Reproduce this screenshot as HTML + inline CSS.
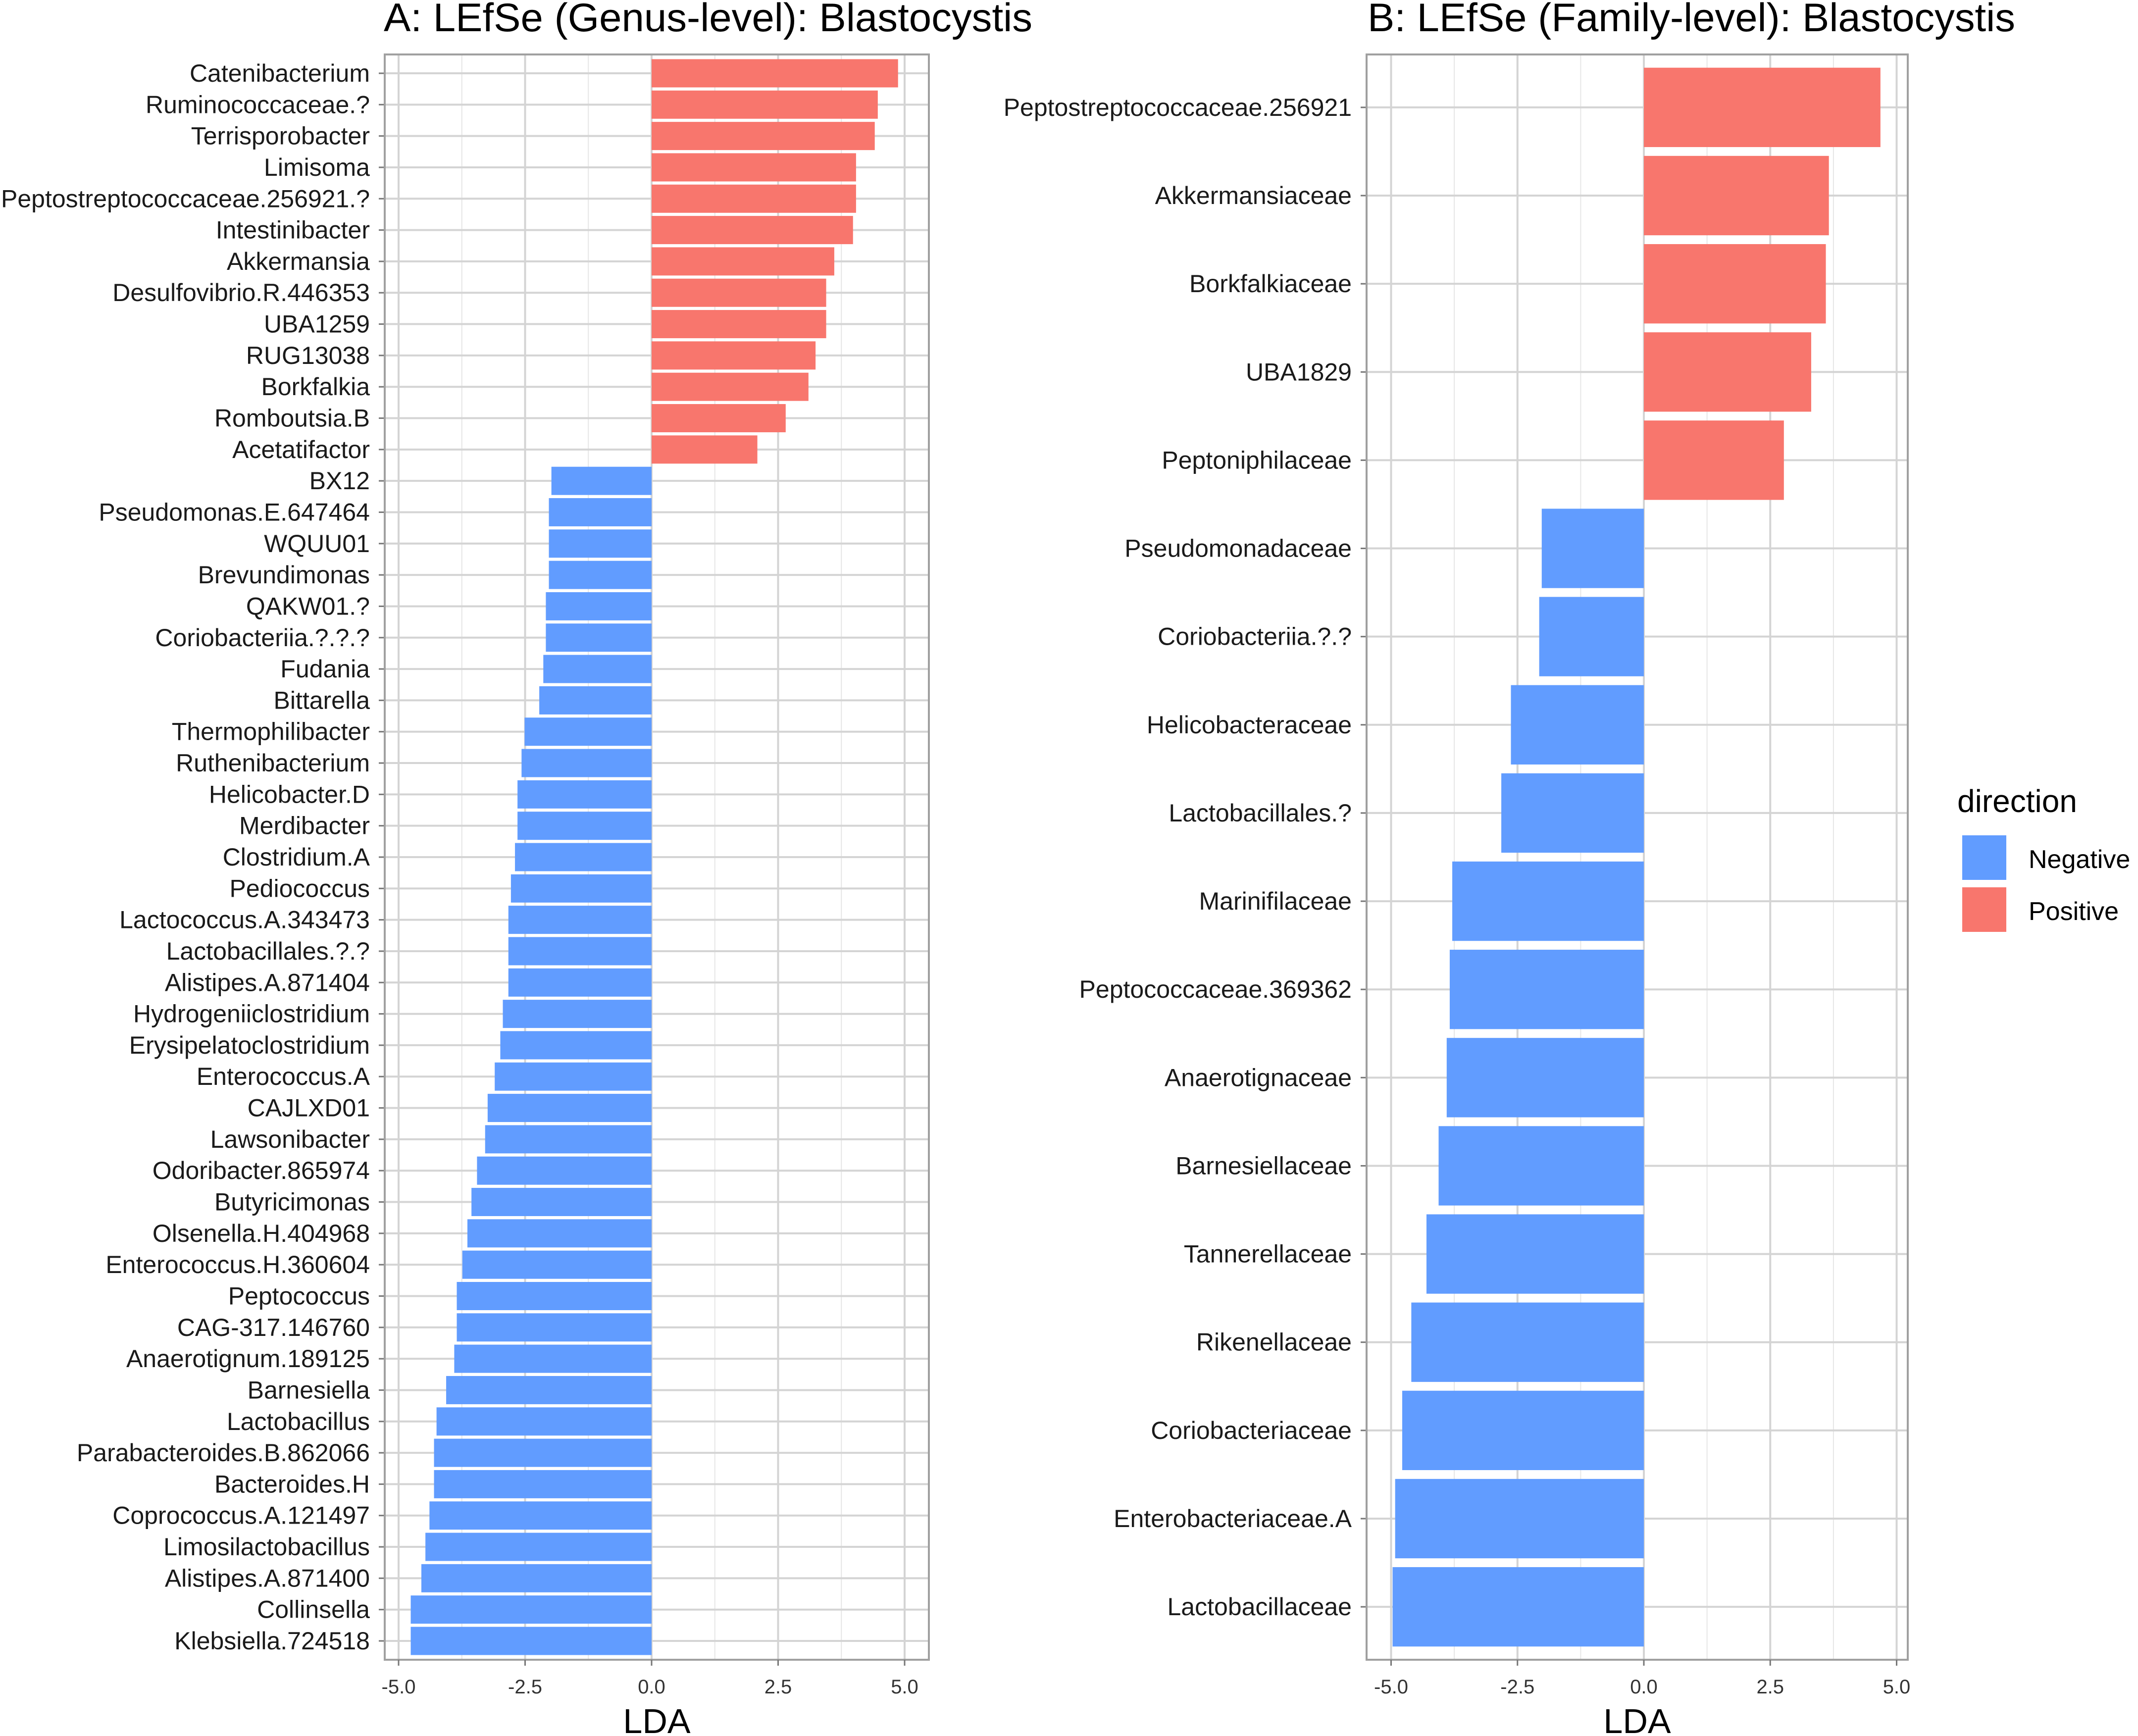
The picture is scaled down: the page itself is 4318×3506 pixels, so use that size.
<!DOCTYPE html>
<html><head><meta charset="utf-8"><style>
html,body{margin:0;padding:0;background:#fff;}
svg{display:block;font-family:"Liberation Sans",Arial,sans-serif;}
</style></head><body>
<svg id="chart" width="4318" height="3506" viewBox="0 0 4318 3506" xmlns="http://www.w3.org/2000/svg">
<text x="775" y="63" font-size="81" textLength="1310" lengthAdjust="spacingAndGlyphs">A: LEfSe (Genus-level): Blastocystis</text>
<text x="2762" y="63" font-size="81" textLength="1308" lengthAdjust="spacingAndGlyphs">B: LEfSe (Family-level): Blastocystis</text>
<g id="panelA"></g>
<g id="panelB"></g>
<g>
<text x="3953" y="1640" font-size="64">direction</text>
<rect x="3963" y="1687" width="89" height="90" fill="#619CFF"/>
<text x="4097" y="1753" font-size="52">Negative</text>
<rect x="3963" y="1792" width="89" height="90" fill="#F8766D"/>
<text x="4097" y="1858" font-size="52">Positive</text>
</g>
</svg>
<script>
const genusNames = ["Catenibacterium","Ruminococcaceae.?","Terrisporobacter","Limisoma","Peptostreptococcaceae.256921.?","Intestinibacter","Akkermansia","Desulfovibrio.R.446353","UBA1259","RUG13038","Borkfalkia","Romboutsia.B","Acetatifactor","BX12","Pseudomonas.E.647464","WQUU01","Brevundimonas","QAKW01.?","Coriobacteriia.?.?.?","Fudania","Bittarella","Thermophilibacter","Ruthenibacterium","Helicobacter.D","Merdibacter","Clostridium.A","Pediococcus","Lactococcus.A.343473","Lactobacillales.?.?","Alistipes.A.871404","Hydrogeniiclostridium","Erysipelatoclostridium","Enterococcus.A","CAJLXD01","Lawsonibacter","Odoribacter.865974","Butyricimonas","Olsenella.H.404968","Enterococcus.H.360604","Peptococcus","CAG-317.146760","Anaerotignum.189125","Barnesiella","Lactobacillus","Parabacteroides.B.862066","Bacteroides.H","Coprococcus.A.121497","Limosilactobacillus","Alistipes.A.871400","Collinsella","Klebsiella.724518"];
const genusLDA = [4.87,4.47,4.41,4.04,4.04,3.98,3.61,3.45,3.45,3.24,3.10,2.65,2.09,-1.98,-2.03,-2.03,-2.03,-2.09,-2.09,-2.14,-2.22,-2.51,-2.57,-2.65,-2.65,-2.70,-2.78,-2.83,-2.83,-2.83,-2.94,-2.99,-3.10,-3.24,-3.29,-3.45,-3.56,-3.64,-3.74,-3.85,-3.85,-3.90,-4.06,-4.25,-4.30,-4.30,-4.39,-4.47,-4.55,-4.76,-4.76];
const familyNames = ["Peptostreptococcaceae.256921","Akkermansiaceae","Borkfalkiaceae","UBA1829","Peptoniphilaceae","Pseudomonadaceae","Coriobacteriia.?.?","Helicobacteraceae","Lactobacillales.?","Marinifilaceae","Peptococcaceae.369362","Anaerotignaceae","Barnesiellaceae","Tannerellaceae","Rikenellaceae","Coriobacteriaceae","Enterobacteriaceae.A","Lactobacillaceae"];
const familyLDA = [4.68,3.66,3.60,3.31,2.77,-2.02,-2.07,-2.63,-2.82,-3.79,-3.84,-3.90,-4.06,-4.30,-4.60,-4.78,-4.92,-4.97];
const tickValues = [-5,-2.5,0,2.5,5];
const tickLabels = ["-5.0","-2.5","0.0","2.5","5.0"];
const minorTicks = [-3.75,-1.25,1.25,3.75];

const NS="http://www.w3.org/2000/svg";
function mk(parent,tag,attrs){const e=document.createElementNS(NS,tag);for(const k in attrs)e.setAttribute(k,attrs[k]);parent.appendChild(e);return e;}

function drawPanel(g,names,vals,left,right,zeroX,unit,top,bottom,prefix){
  const n=names.length;
  const step=(bottom-top)/(n-1+1.2);
  const y0=top+0.6*step;
  const xs=v=>zeroX+v*unit;
  const ys=i=>y0+i*step;
  mk(g,'rect',{x:left,y:top,width:right-left,height:bottom-top,fill:'#fff'});
  minorTicks.forEach(t=>{const l=mk(g,'line',{x1:xs(t),x2:xs(t),y1:top,y2:bottom,stroke:'#e6e6e6','stroke-width':2});
    
    });
  tickValues.forEach(t=>{const l=mk(g,'line',{x1:xs(t),x2:xs(t),y1:top,y2:bottom,stroke:'#d4d4d4','stroke-width':4});
    
    });
  names.forEach((nm,i)=>{const l=mk(g,'line',{x1:left,x2:right,y1:ys(i),y2:ys(i),stroke:'#d4d4d4','stroke-width':4});
    
    });
  const bh=0.9*step;
  vals.forEach((v,i)=>{
    const x=Math.min(xs(0),xs(v)),w=Math.abs(xs(v)-xs(0));
    const r=mk(g,'rect',{x:x,y:ys(i)-bh/2,width:w,height:bh,fill:v>=0?'#F8766D':'#619CFF'});
    
    
    const lab=mk(g,'text',{x:left-30,y:ys(i)+17,'font-size':50,'text-anchor':'end',fill:'#1a1a1a'});
    lab.textContent=names[i];
    
    
    mk(g,'line',{x1:left-12,x2:left,y1:ys(i),y2:ys(i),stroke:'#777','stroke-width':3});
  });
  const b=mk(g,'rect',{x:left,y:top,width:right-left,height:bottom-top,fill:'none',stroke:'#a0a0a0','stroke-width':4});
  
  
  tickValues.forEach((t,i)=>{
    mk(g,'line',{x1:xs(t),x2:xs(t),y1:bottom,y2:bottom+12,stroke:'#777','stroke-width':3});
    const tl=mk(g,'text',{x:xs(t),y:3420,'font-size':40,'text-anchor':'middle',fill:'#333'});
    tl.textContent=tickLabels[i];
    
    
  });
  const at=mk(g,'text',{x:(left+right)/2,y:3500,'font-size':70,'text-anchor':'middle',fill:'#000'});
  at.textContent='LDA';
  
  
}
drawPanel(document.getElementById('panelA'),genusNames,genusLDA,777,1876,1316,102.2,110,3352,'genus');
drawPanel(document.getElementById('panelB'),familyNames,familyLDA,2760,3853,3320,102.1,110,3352,'family');
</script>
</body></html>
